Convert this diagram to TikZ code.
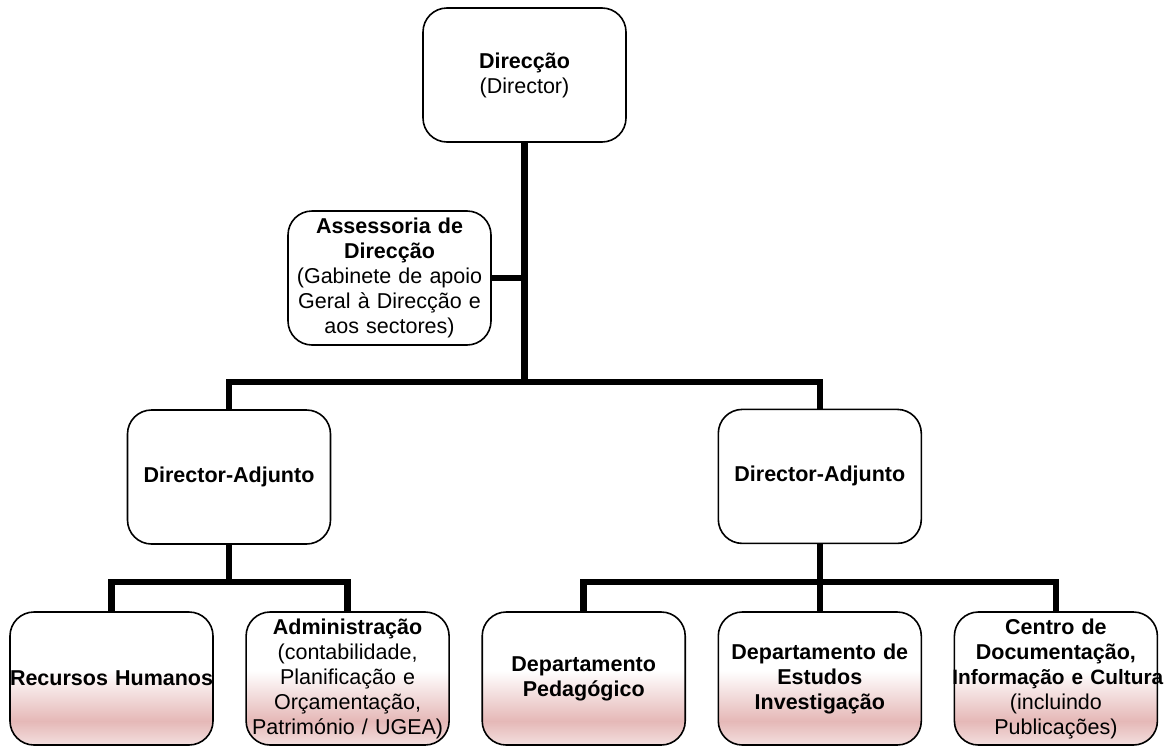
\documentclass[tikz,border=0pt]{standalone}
\usepackage{fontspec}
\setmainfont{Liberation Sans}
\usepackage{xcolor}
\usetikzlibrary{positioning}
\definecolor{rosepeak}{RGB}{229,184,183}
\colorlet{roselight}{rosepeak!45!white}
\pgfdeclareverticalshading{rosefade}{100bp}{color(0bp)=(roselight); color(25bp)=(roselight); color(34bp)=(rosepeak); color(53bp)=(white); color(100bp)=(white)}
\tikzstyle{box} = [rectangle, rounded corners=24pt, draw=black, line width=1.6pt, align=center, inner xsep=0pt, inner ysep=0pt, text width=203pt, minimum height=134pt, font=\fontsize{21.5}{25}\selectfont]
\tikzstyle{unit} = [box, fill=white]
\tikzstyle{section} = [box, minimum height=133pt, shade, shading=rosefade]
\tikzstyle{link} = [line width=6.5pt]

\begin{document}
\begin{tikzpicture}[x=1pt, y=-1pt]
    \useasboundingbox[fill=white] (0,0) rectangle (1169,747);
    % Nodes
    \node [unit] (dir) at (524.5,75) {\textbf{Direcção}\\(Director)};
    \node [unit] (assess) at (389.5,278) {\textbf{Assessoria de}\\\textbf{Direcção}\\(Gabinete de apoio\\Geral à Direcção e\\aos sectores)};
    \node [section] (rh) at (111.5,678.5) {\mbox{\textbf{Recursos Humanos}}};
    \node [section, right=31.5pt of rh] (adm) {\textbf{Administração}\\(contabilidade,\\Planificação e\\Orçamentação,\\\mbox{Património / UGEA)}};
    \node [section, right=31.5pt of adm] (ped) {\textbf{Departamento}\\\textbf{Pedagógico}};
    \node [section, right=31.5pt of ped] (est) {\mbox{\textbf{Departamento de}}\\\textbf{Estudos}\\\textbf{Investigação}};
    \node [section, right=31.5pt of est] (cdi) {\textbf{Centro de}\\\textbf{Documentação,}\\\mbox{\hspace*{-2pt}\fontsize{20.8}{25}\selectfont\textbf{Informação e Cultura}}\\(incluindo\\Publicações)};
    \node [unit] (da1) at (229,477) {\textbf{Director-Adjunto}};
    \node [unit, above=67pt of est] (da2) {\textbf{Director-Adjunto}};

    % Links
    \draw [link] (dir.south) -- ++(0,241);
    \draw [link] (assess.east) -- (assess.east -| dir.south);
    \draw [link] (da1.north) -- ++(0,-27) -| (da2.north);
    \draw [link] (da1.south) -- ++(0,38);
    \draw [link] (rh.north) -- ++(0,-29) -| (adm.north);
    \draw [link] (da2.south) -- (est.north);
    \draw [link] (ped.north) -- ++(0,-29) -| (cdi.north);
\end{tikzpicture}
\end{document}
